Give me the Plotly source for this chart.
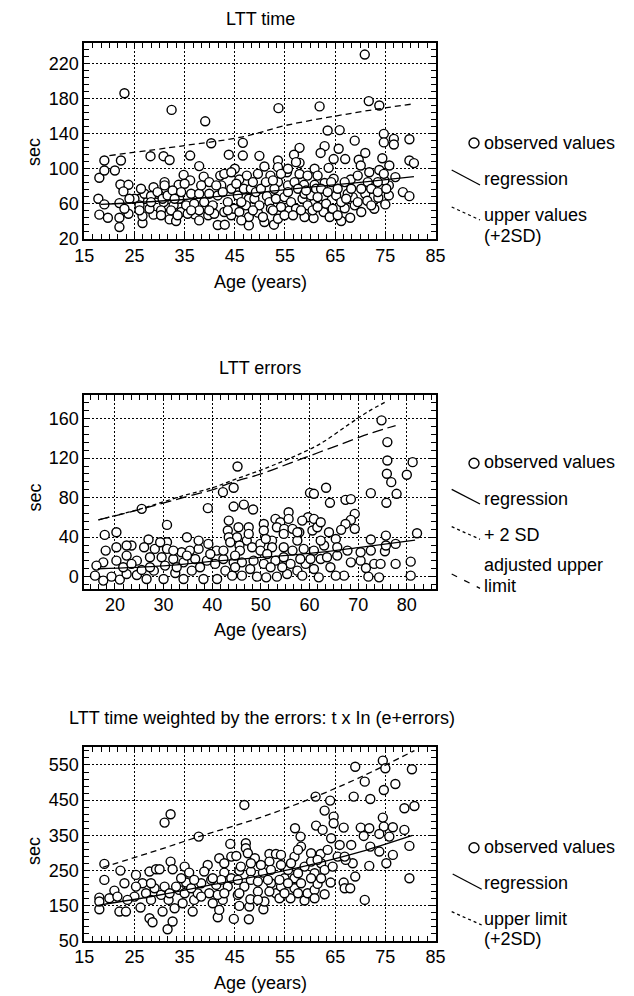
import plotly.graph_objects as go

W, H = 634, 996
OFF = 8  # default page margin of the html body
FONT = "Liberation Sans, Arial, Helvetica, sans-serif"

# ---------------- Panel 1: LTT time ----------------
age1 = [70.9, 23, 32.4, 39.1, 53.7, 61.9, 71.7, 73.8, 63.5, 65.9,
        40.3, 46.6, 68.9, 74.7, 74.7, 76.7, 76.7, 79.8, 57.9, 62.9,
        65.7, 19, 22.3, 28.2, 30.8, 32, 36.1, 43.8, 46.6, 49.9,
        56.8, 62.1, 71, 74.4, 79.8, 80.7, 18, 19, 21.1, 22.2,
        23.8, 22.8, 17.8, 19, 18, 19.7, 22, 22, 22, 23.8,
        26, 26.6, 26.6, 28.8, 28.8, 31, 31.2, 29.5, 30.8, 32,
        33.3, 33.8, 34.8, 36.1, 37.9, 38.8, 39.9, 37, 39.7, 41.6,
        43, 42.1, 42.9, 45, 45.9, 47.4, 47.8, 47.8, 47.8, 49.6,
        50.9, 51.4, 50.9, 52.8, 53.6, 52.1, 53.6, 53.6, 53.6, 55.4,
        55.6, 55.9, 57.9, 57.9, 58.8, 58.9, 60.7, 60.9, 60.9, 60.9,
        62.7, 62.7, 62.9, 63.7, 64.7, 64.7, 63.9, 66.2, 68, 66.9,
        67, 68.1, 68.5, 69.7, 70.1, 71, 71.4, 71.8, 73.8, 73.6,
        75, 75.7, 75.7, 74.8, 75.8, 77, 78.5, 79.8, 74.7,
        25, 26, 27, 28.3, 29.6, 30.6, 31.6, 32.6, 32.8, 33.9,
        34.3, 35, 35.3, 35.6, 26, 28, 30.3, 32.3, 31,
        36.3, 36.9, 37.9, 38.9, 39.9, 40.6, 40.9, 41.6, 42.3, 42.9,
        43.6, 44.3, 44.3, 44.9, 45.6, 45.9, 46.3, 46.8, 47.2, 48.2,
        48.6, 48.9, 49.2,
        49.9, 50.2, 51.2, 51.9, 52.2, 52.9, 53.2, 54.2, 54.2, 54.9,
        55.6, 56.2, 56.9, 57.2, 57.6, 58.5, 58.9, 59.5, 60.2, 60.5,
        61.2, 61.5, 61.5,
        62.2, 63.2, 64.2, 64.5, 65.2, 65.5, 66.2, 66.9, 67.5, 68.9,
        69.5, 70.2, 71.5, 72.2, 72.8, 73.5,
        44.3, 49.6, 55.6, 57.2, 59.5, 52.6,
        41.3, 42.6, 43.6, 45.3, 46.3, 48.6, 50.6, 52.6, 54.9, 56.6,
        58.2, 59.2, 61.5, 63.5, 65.5, 67.2, 68.2, 69.5, 70.2, 72.2,
        73.5, 75.2, 26.3, 28.3, 33, 34.3, 37.9, 38.3, 39.9, 36.3,
        24, 23, 30.3, 33.6, 37.9]
time1 = [230, 186, 167, 154, 169, 171, 177, 172, 143.5, 144,
         129, 129.5, 132, 139.7, 130, 134, 127.6, 133.6, 123.8, 125.7,
         122.7, 109.4, 109.4, 114.3, 114.3, 110, 115, 116, 115, 114.7,
         116, 118, 118, 112, 109.4, 106.4, 89.7, 98, 98, 82,
         81.7, 74.2, 65.8, 59.4, 47.7, 44.2, 33.6, 44.2, 60.9, 48.8,
         65.8, 38.2, 46.1, 47.7, 79, 84.8, 77.2, 71.5, 62, 42.3,
         40.5, 81.7, 93, 86.7, 103, 91, 84.8, 48, 47, 35.9,
         36.3, 92.2, 94.2, 100, 87.8, 92.2, 35.5, 45, 65.8, 50,
         102.6, 68.8, 39.3, 36.3, 43, 92.2, 109.4, 101.8, 84.8, 96,
         81, 52.6, 106.7, 94, 81.7, 45, 43.8, 100, 81.7, 62,
         50.7, 68.8, 83.7, 101, 111, 88.6, 45, 40.5, 44.2, 55,
         111, 87.8, 67.7, 110.2, 103.7, 71.5, 63.6, 96, 98.6, 67,
         59.4, 69.6, 81, 86.7, 103.7, 90.5, 73.4, 68.8, 94.2,
         65.8, 58.3, 71.5, 68.9, 73.4, 65.8, 69.6, 75.3, 58.3, 65.8,
         50.7, 82.9, 58.3, 48.8, 52.6, 54.5, 52.6, 52.6, 81,
         71.5, 60.2, 71.5, 62, 71.5, 58.3, 48.8, 69.6, 81, 50.7,
         62, 77.2, 47, 54.5, 69.6, 50.7, 41.2, 77.2, 58.3, 77.2,
         84.8, 65.8, 73.4,
         58.3, 77.2, 84.8, 62, 54.5, 77.2, 65.8, 94.2, 56.4, 67.7,
         73.4, 62, 84.8, 54.5, 77.2, 65.8, 71.5, 58.3, 69.6, 52.6,
         77.2, 92.2, 56.4,
         77.2, 60.2, 84.8, 54.5, 69.6, 77.2, 62, 84.8, 71.5, 58.3,
         92.2, 77.2, 84.8, 77.2, 54.5, 84.8,
         96, 94.2, 100, 107.5, 92.2, 86.7,
         81, 73.4, 52.6, 82.9, 62, 52.6, 45, 52.6, 47, 47,
         52.6, 75.3, 67.7, 73.4, 47, 65.8, 77.2, 62, 50.7, 58.3,
         73.4, 77.2, 77.2, 62, 65.8, 73.4, 52.6, 81, 52.6, 52.6,
         65.8, 54.5, 47, 47, 41.2]
reg1_x = [18.3, 35, 48, 60, 70, 80.7]
reg1_y = [59.5, 65, 72, 79, 84.5, 91]
up1_x = [20, 35, 46.9, 54.9, 64.9, 73.5, 80.5]
up1_y = [115, 126.4, 136.7, 149, 159.8, 168, 173.8]

# ---------------- Panel 2: LTT errors ----------------
age2 = [74.8, 76, 76, 75.9, 76.8, 77.9, 75.8, 81.2, 80, 45.2,
        44.4, 42.2, 25.5, 39.1, 44.4, 46.5, 48.4, 30.7, 60.1, 60.9,
        63.4, 64.2, 67.4, 68.5, 72.6, 17.9, 20.3, 82.1, 72.6, 75.7,
        77.7, 75.5, 80.8, 80.8, 77.7, 74.3, 72.1, 71.6, 70.5, 68.5,
        67.1, 65.4, 61.9, 69.3, 68.5, 67.4, 66.5, 65.4, 64, 63,
        69.3, 55.7, 53, 54, 55.7, 50.6, 50.6, 53.3, 54.8, 56.5,
        57.9, 59.7, 60.9, 60.6, 61.6, 62.3, 43.4, 43.2, 43.4, 45.4,
        47.5, 45.1, 47.1, 47.5, 43.7, 45.6, 48.2, 49.9, 52.3, 54.7,
        57.5, 58.8, 60.9, 52.3, 34.8, 39.2, 37.2, 33.7, 30.7, 30.7,
        26.9, 26, 28.2, 23.4, 20.3, 18.1, 22.4, 20.3, 17.6, 16.2,
        15.9, 17.6, 19.3, 21, 22.4, 24.5, 26.5, 25.5, 28, 30,
        32.4, 34.1, 35.8, 38.2, 41, 42.7, 44.1, 46.1, 47.8, 49.2,
        51.1, 53.3, 55.4, 57.5, 59.2, 24.5, 27.2, 29.6, 32, 34.1,
        36.5, 38.9, 40.6, 42.3, 44.4, 46.1, 48.5, 50.6, 53, 54.7,
        56.1, 58.1, 60.2, 62.3, 63.6, 65.7, 64.3, 60.9, 21.7, 23.4,
        22.4, 29.3, 32, 35.4, 37.2, 40.9, 42.3, 49.9, 51.3, 56.5,
        62.3, 65.7, 67.8, 70.5, 72.6, 75.7, 73.3, 74.6, 54.7, 57.5,
        58.5, 51, 45.7, 44.7, 39.6, 34.8, 30.3, 27.2, 32.7, 37.5,
        44.7, 52, 54.4, 58.5]
err2 = [158.3, 136.3, 117.7, 104.2, 95.7, 83.9, 74.8, 116, 103.2, 111.6,
        90, 85.6, 68.7, 69.4, 71, 73, 68, 52.4, 84.9, 83.9,
        90, 74.8, 77.8, 78.5, 84.6, 42.3, 45, 44, 37.6, 41.6,
        33.2, 25.7, 15.2, 1, 12.9, -0.7, 0, 8.8, 16.2, 14.5,
        1, 1, -0.7, 63.6, 57.5, 53.4, 47.4, 38.2, 45, 31.5,
        48.4, 65.3, 58.5, 55.1, 58.5, 53.4, 46.7, 50, 48.4, 48.4,
        45, 60.2, 58.5, 46.7, 50, 55.1, 56.8, 46.7, 39.9, 50,
        50, 39.9, 36.5, 43.3, 34.8, 31.5, 29.8, 33.2, 36.5, 29.8,
        36.5, 28.1, 26.4, 29.8, 39.9, 33.2, 28.1, 24.7, 34.8, 28.1,
        37.6, 29.8, 28.1, 31.5, 29.8, 26.4, 21.3, 16.2, 14.5, 11.2,
        1, -4, 0, -3, 2.7, 1.7, -2.4, 6.8, 6.1, -2.4,
        3.7, -2.4, 6.1, -2.4, -2.4, 6.1, 1, 1, 7.8, 0,
        -0.7, 0, 2.7, 6.1, 12.9, 16.2, 19.6, 19.6, 17.9, 14.5,
        17.9, 16.2, 12.9, 17.9, 14.5, 14.5, 16.2, 12.9, 16.2, 19.6,
        12.9, 17.9, 17.9, 17.9, 19.6, 21.3, 9.5, 7.8, 9.5, 12.9,
        31.5, 34.8, 26.4, 26.4, 36.5, 26.4, 26.4, 26.4, 23, 26.4,
        36.5, 29.8, 26.4, 24.7, 26.4, 31.5, 12.9, 12.9, 43.3, 45,
        56.8, 38.2, 26.4, 21.3, 23, 21.3, 11.2, 9.5, 9.5, 9.5,
        9.5, 9.5, 9.5, 1]
reg2_x = [16.5, 30, 40, 50, 60, 70, 81.7]
reg2_y = [8, 11, 15.5, 19.5, 23.5, 29.5, 37]
sd2_x = [16.6, 25.5, 34, 40, 44.4, 50, 56, 62, 68, 72, 76]
sd2_y = [57.5, 69, 82, 90, 98, 108, 120, 134, 154, 167, 178]
adj2_x = [16.6, 25.5, 34, 40, 44.4, 50, 56, 62, 68, 73, 77.7]
adj2_y = [57.5, 68.5, 80, 88, 96, 104, 115, 126, 137, 146, 153]

# ---------------- Panel 3: weighted time ----------------
age3 = [74.5, 75, 69, 80.3, 70.9, 77, 74.7, 68.7, 72, 61.1,
        64, 46.9, 78.8, 80.8, 62.9, 64.7, 64.7, 32.2, 31, 74.5,
        61.2, 62.5, 66.7, 70.1, 71.8, 74.7, 76.5, 78.8, 57, 37.8,
        19, 19, 58.1, 64.2, 70.7, 73.8, 75.8, 58.2, 65.9, 68.2,
        72, 73.8, 76.5, 79.8, 75.2, 71.8, 79.8, 70.9, 44.1, 47.2,
        47.2, 47.6, 51.9, 53.2, 54.2, 44.3, 45.3, 41.9, 49, 51.9,
        56.9, 60.2, 62.1, 62.2, 32.2, 32.6, 35, 39.6, 22.2, 25.3,
        28, 29.3, 30, 35.9, 38.9, 42.9, 45.9, 48.2, 50.6, 52.2,
        54.9, 56.9, 60.9, 62.9, 64.1, 66.7, 66.9, 68, 69, 68.5,
        67.1, 58.9, 57.6, 18, 18, 20, 21, 22, 23.3, 23,
        25, 26.2, 26.6, 27.3, 28, 28.6, 29, 30.3, 30.6, 31.8,
        31.6, 32.6, 33, 33.9, 34.6, 35.3, 36.6, 36.9, 37.6, 39.9,
        40.6, 41.3, 41.6, 41.9, 42.6, 43.6, 44.8, 45.6, 45.9, 46.9,
        47.9, 47.8, 48.1, 49.6, 50.7, 50.9, 52.2, 53.2, 53.9, 54.2,
        56.1, 56.9, 58.9, 59.5, 60.9, 62.9, 61.5, 25.3, 28.3, 31,
        33.3, 35, 38.3, 40.3, 42.3, 44.3, 45.6, 48.2, 49.6, 51.6,
        53.9, 55.6, 58.2, 60.2, 18, 21.6, 23.6, 28.3, 32, 36.3,
        38.3, 41.6, 42.9, 45.9, 49.6, 51.9, 54.9, 57.6, 60.9, 55.6,
        50.2, 48.2, 46.2, 54.2, 56.2, 60.2, 61.5, 57.6, 62.2, 64.5,
        65.5, 63.5, 66.9, 42.9, 40.6, 36.9, 34.3]
wt3 = [562.3, 540.5, 545, 537.7, 502.6, 496, 478.9, 460, 453.3, 460,
       448.6, 436.3, 426.8, 433.4, 420.2, 403, 384.1, 409.7, 386, 400.2,
       377.5, 365.2, 371.8, 371.8, 369.9, 374.6, 372.7, 365.2, 370, 346.2,
       268.5, 223, 346.2, 341.5, 348.1, 353.8, 346.2, 317.8, 322.5, 322.5,
       317.8, 303.6, 294.1, 319.7, 270.4, 262.8, 227.7, 166.1, 325.4, 327.3,
       313, 298.8, 296.9, 296.9, 294.1, 289.3, 291.2, 284.6, 284.6, 275.1,
       289.3, 298.8, 296.9, 270.4, 275.1, 253.3, 260.9, 265.6, 249.5, 237.2,
       246.7, 253.3, 253.3, 243.8, 246.7, 243.8, 249.5, 246.7, 243.8, 251.4,
       227.7, 227.7, 241.9, 251.4, 215.4, 215.4, 199.3, 199.3, 232.5, 270.4,
       279.9, 260.9, 241.9, 172.7, 139.6, 170.8, 192.6, 132.9, 132.9, 213.5,
       175.5, 144.3, 213.5, 185.1, 114, 102.6, 199.3, 180.3, 132.9, 166.1,
       82.7, 104.5, 142.4, 194.6, 156.6, 215.4, 132.9, 166.1, 185.1, 185.1,
       156.6, 208.8, 116.8, 137.7, 166.1, 204, 112.1, 180.3, 149, 204,
       147.1, 111.1, 168, 189.8, 139.6, 161.4, 213.5, 185.1, 170.8, 204,
       170.8, 199.3, 164.2, 185.1, 194.6, 182.2, 211.6, 204, 213.5, 204,
       204, 185.1, 213.5, 223, 223, 227.7, 223, 223, 218.2, 223,
       223, 213.5, 213.5, 227.7, 161.4, 175.5, 166.1, 166.1, 185.1, 199.3,
       175.5, 180.3, 185.1, 185.1, 166.1, 189.8, 185.1, 185.1, 170.8, 251.4,
       265.6, 270.4, 260.9, 265.6, 270.4, 275.1, 279.9, 308.3, 227.7, 260.9,
       289.3, 308.3, 289.3, 270.4, 227.7, 223, 227.7]
reg3_x = [17.5, 30, 40, 50, 60, 70, 80.4]
reg3_y = [150, 180, 208, 235, 266, 303, 350]
up3_x = [18.7, 28, 37.8, 50, 61.1, 70, 80.8]
up3_y = [259, 300, 346, 400, 460, 515, 591]

titles = ["LTT time", "LTT errors",
          "LTT time weighted by the errors: t x In (e+errors)"]
x_title = "Age (years)"
y_title = "sec"


def px(v):
    return (v - OFF) / W


def py(v):
    return 1 - (v - OFF) / H


fig = go.Figure()
marker = dict(symbol="circle", size=9, color="white",
              line=dict(color="black", width=1.4))


def add_panel(k, xs, ys, lines):
    xa = "x" if k == 1 else "x%d" % k
    ya = "y" if k == 1 else "y%d" % k
    fig.add_trace(go.Scatter(x=xs, y=ys, mode="markers", marker=marker,
                             xaxis=xa, yaxis=ya, hoverinfo="skip",
                             cliponaxis=True))
    for lx, ly, dash in lines:
        fig.add_trace(go.Scatter(x=lx, y=ly, mode="lines",
                                 line=dict(color="black", width=1.3,
                                           dash=dash, shape="spline"),
                                 xaxis=xa, yaxis=ya, hoverinfo="skip"))


add_panel(1, age1, time1, [(reg1_x, reg1_y, "solid"),
                           (up1_x, up1_y, "6px,4px")])
add_panel(2, age2, err2, [(reg2_x, reg2_y, "solid"),
                          (sd2_x, sd2_y, "4px,3px"),
                          (adj2_x, adj2_y, "11px,5px")])
add_panel(3, age3, wt3, [(reg3_x, reg3_y, "solid"),
                         (up3_x, up3_y, "6px,4px")])

tickfont = dict(family=FONT, size=18, color="black")


def ax(rng, tick0, dtick, mdtick, domain, anchor, standoff):
    return dict(range=rng, tick0=tick0, dtick=dtick, domain=domain,
                anchor=anchor, automargin=False, showline=True,
                linecolor="black", linewidth=2, mirror="ticks",
                ticks="inside", ticklen=6, tickwidth=1.3,
                tickcolor="black", showgrid=True, gridcolor="black",
                gridwidth=1.3, griddash="2px,2px", zeroline=False,
                tickfont=tickfont, ticklabelstandoff=standoff,
                minor=dict(ticks="inside", ticklen=5, tickwidth=1.2,
                           tickcolor="black", showgrid=False,
                           tick0=tick0, dtick=mdtick))


xd = [px(84.3), px(435.5)]
xd2 = [px(84.3), px(436)]
yd1 = [py(239), py(42.7)]
yd2 = [py(588.5), py(395)]
yd3 = [py(940.7), py(746.7)]

fig.update_layout(
    template="none",
    width=W, height=H, margin=dict(l=0, r=0, t=0, b=0, pad=0),
    paper_bgcolor="white", plot_bgcolor="white", showlegend=False,
    font=dict(family=FONT, size=18, color="black"),
    xaxis=ax([15, 85], 15, 10, 10 / 6, xd, "y", -1),
    yaxis=ax([20, 243.5], 20, 40, 8, yd1, "x", 0),
    xaxis2=ax([13.7, 86], 20, 10, 10 / 6, xd2, "y2", -1),
    yaxis2=ax([-12, 184], 0, 40, 8, yd2, "x2", 0),
    xaxis3=ax([15, 85], 15, 10, 10 / 6, xd, "y3", -1),
    yaxis3=ax([50, 602], 50, 100, 20, yd3, "x3", 0),
)

ann = []
shapes = []


def text(x, y, s, xanchor="center", angle=0, yanchor="middle"):
    ann.append(dict(x=px(x), y=py(y), xref="paper", yref="paper", text=s,
                    showarrow=False, xanchor=xanchor, yanchor=yanchor,
                    textangle=angle, borderpad=0,
                    font=dict(family=FONT, size=18, color="black")))


# panel titles and axis titles
text(260, OFF, titles[0], yanchor="top")
text(260, 368.3, titles[1])
text(262, 718.3, titles[2])
for yy in (281.5, 630, 983):
    text(260, yy, x_title)
for yy in (152, 497.5, 851):
    text(34, yy, y_title, angle=-90)


def seg(x0, y0, x1, y1, dash):
    shapes.append(dict(type="line", xref="paper", yref="paper",
                       x0=px(x0), y0=py(y0), x1=px(x1), y1=py(y1),
                       line=dict(color="black", width=1.3, dash=dash)))


def circ(cx, cy):
    r = 5
    shapes.append(dict(type="circle", xref="paper", yref="paper",
                       x0=px(cx - r), x1=px(cx + r), y0=py(cy + r),
                       y1=py(cy - r), line=dict(color="black", width=1.4),
                       fillcolor="white"))


LX = 483
# legend panel 1
circ(474, 143)
text(LX, 143.3, "observed values", "left")
seg(451.7, 170, 480, 185, "solid")
text(LX, 179.3, "regression", "left")
seg(451.7, 207, 480, 220, "3px,3px")
text(LX, 214.8, "upper values", "left")
text(LX, 235.6, "(+2SD)", "left")

# legend panel 2
circ(474, 463.3)
text(LX, 462.3, "observed values", "left")
seg(451.7, 489.3, 480, 504, "solid")
text(LX, 499.3, "regression", "left")
seg(451.7, 526.7, 480, 539.3, "3px,3px")
text(LX, 535, "+ 2 SD", "left")
seg(451.7, 574, 480, 588.3, "6px,8px")
text(LX, 565, "adjusted upper", "left")
text(LX, 585.8, "limit", "left")

# legend panel 3
circ(474, 847.7)
text(LX, 847.3, "observed values", "left")
seg(452.7, 874, 481.7, 889.3, "solid")
text(LX, 883.3, "regression", "left")
seg(451.7, 911.7, 481.7, 925, "3px,3px")
text(LX, 918.6, "upper limit", "left")
text(LX, 939.2, "(+2SD)", "left")

fig.update_layout(annotations=ann, shapes=shapes)
fig.write_html("out.html")
